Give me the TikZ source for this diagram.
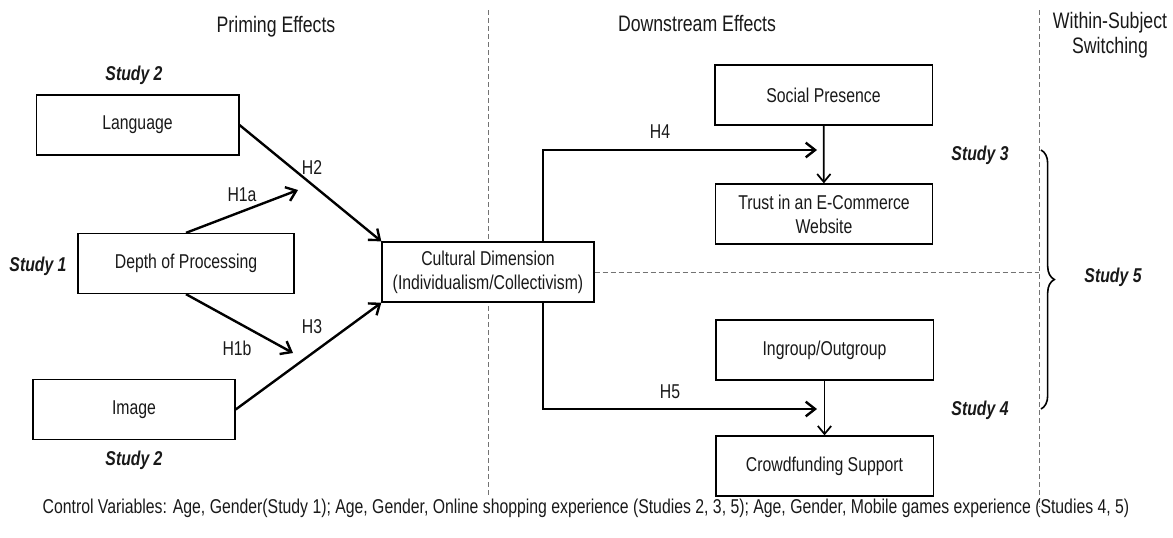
\documentclass[tikz,border=0pt]{standalone}
\usepackage{fontspec}
\setmainfont{Liberation Sans}[FakeStretch=0.79]
\usetikzlibrary{arrows.meta,decorations.pathreplacing}
\begin{document}
\begin{tikzpicture}[x=0.75pt,y=-0.75pt]
\tikzstyle{every node}=[font=\fontsize{15}{18}\selectfont, text=black!90]
\tikzstyle{box}=[draw, line width=1pt, fill=white, minimum height=45pt]
\tikzstyle{arr}=[line width=1.8pt, -{Straight Barb[length=7pt,width=11pt]}]
\tikzstyle{thinarr}=[line width=1.3pt, -{Straight Barb[length=6pt,width=10pt]}]
\tikzstyle{sep}=[dash pattern=on 4pt off 2pt, line width=0.7pt, black!55]
\tikzstyle{study}=[font=\fontsize{15}{18}\selectfont\bfseries\itshape]
\tikzstyle{heading}=[font=\fontsize{16.8}{19}\selectfont]
\useasboundingbox (0,0) rectangle (1173,537);
%%%%%%%%%%%%%
\draw[sep] (488,10) -- (488,497);
\coordinate (septop) at (1039,10);
\coordinate (sepbot) at (1039,507);
\draw[sep] (septop) -- (sepbot);
%%%%%%%%%%%%%
\node[box, minimum width=152pt] (lang) at (137.5,125) {Language};
\node[box, minimum width=162pt] (depth) at (186,263.5) {Depth of Processing};
\node[box, minimum width=151.5pt] (image) at (134,409.5) {Image};
\node[box, minimum width=159pt, align=center] (cult) at (488,272) {Cultural Dimension\\(Individualism/Collectivism)};
\node[box, minimum width=163pt] (social) at (823.5,95) {Social Presence};
\node[box, minimum width=163pt, align=center] (trust) at (824,214) {Trust in an E-Commerce\\Website};
\node[box, minimum width=163pt] (ingroup) at (824.5,350) {Ingroup/Outgroup};
\node[box, minimum width=163pt] (crowd) at (824.5,466) {Crowdfunding Support};
%%%%%%%%%%%%%
\draw[sep] (cult.east) -- (cult.east -| septop);
%%%%%%%%%%%%%
\coordinate (h1aend) at (298,190);
\coordinate (h1bend) at (293,353);
\coordinate (h4start) at (543,242);
\coordinate (h4end) at (817,150);
\coordinate (h5start) at (543,302);
\coordinate (h5end) at (817,409);
\draw[arr] (lang.east) -- (cult.north west);
\draw[arr] (depth.north) -- (h1aend);
\draw[arr] (depth.south) -- (h1bend);
\draw[arr] (image.east) -- (cult.south west);
\draw[arr] (h4start) |- (h4end);
\draw[arr] (h5start) |- (h5end);
\draw[thinarr] (social) -- (trust);
\draw[thinarr] (ingroup) -- (crowd);
%%%%%%%%%%%%%
\draw[line width=1.2pt, decorate, decoration={brace, amplitude=10pt}] (1041,150) -- (1041,409);
%%%%%%%%%%%%%
\node (h2) at (312,168) {H2};
\node (h1a) at (242,195) {H1a};
\node (h1b) at (237,348) {H1b};
\node (h3) at (312,327) {H3};
\node (h4) at (660,132) {H4};
\node (h5) at (670,392) {H5};
%%%%%%%%%%%%%
\node[heading] (priming) at (276,27) {Priming Effects};
\node[heading] (downstream) at (697,23) {Downstream Effects};
\node[heading, align=center] (within) at (1110,35) {Within-Subject\\Switching};
%%%%%%%%%%%%%
\node[study] (study2a) at (134,75) {Study 2};
\node[study] (study1) at (38,266) {Study 1};
\node[study] (study2b) at (134,460) {Study 2};
\node[study] (study3) at (980,155) {Study 3};
\node[study] (study4) at (980,410) {Study 4};
\node[study] (study5) at (1113,277) {Study 5};
%%%%%%%%%%%%%
\node (controls) at (586,508) {Control Variables: Age, Gender(Study 1); Age, Gender, Online shopping experience (Studies 2, 3, 5); Age, Gender, Mobile games experience (Studies 4, 5)};
\end{tikzpicture}
\end{document}
